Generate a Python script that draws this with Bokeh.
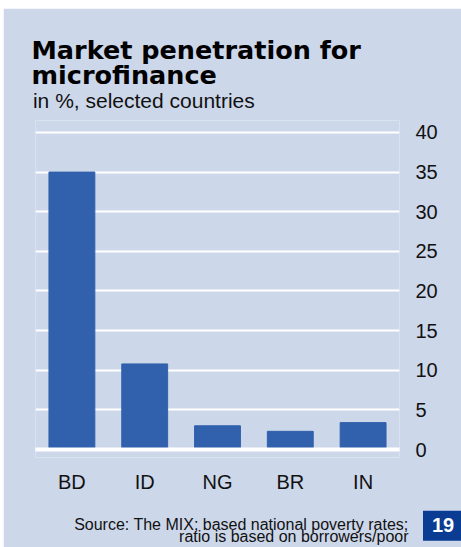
from bokeh.plotting import figure
from bokeh.models import Range1d, FactorRange, Span, Label, LinearAxis, FixedTicker, Spacer
from bokeh.layouts import column, row
from bokeh.embed import file_html
from bokeh.resources import INLINE

countries = ["BD", "ID", "NG", "BR", "IN"]
penetration = [35.0, 10.8, 3.0, 2.3, 3.4]
y_ticks = [0, 5, 10, 15, 20, 25, 30, 35, 40]

BG = "#CDD7EA"
BAR = "#3160AC"
BOX = "#0A3C93"
FONT = "Liberation Sans"
TXT = "#111111"

p = figure(width=458, height=539, x_range=FactorRange(*countries), y_range=Range1d(-1, 41.5),
           output_backend="svg", toolbar_location=None, y_axis_location=None,
           min_border_left=32, min_border_right=62, min_border_top=112, min_border_bottom=90)
p.background_fill_color = BG
p.border_fill_color = BG
p.outline_line_color = None

p.vbar(x=countries, top=penetration, bottom=0, width=0.63, color=BAR)

p.xgrid.grid_line_color = None
p.ygrid.grid_line_color = "white"
p.ygrid.grid_line_width = 2
p.ygrid.ticker = FixedTicker(ticks=y_ticks)

p.add_layout(Span(location=0, dimension="width", line_color="white", line_width=4, line_cap="round"))

yax = LinearAxis(ticker=FixedTicker(ticks=y_ticks))
yax.axis_line_color = None
yax.major_tick_line_color = None
yax.minor_tick_line_color = None
yax.major_tick_out = 0
yax.major_label_standoff = 16
yax.major_label_text_font = FONT
yax.major_label_text_font_size = "20px"
yax.major_label_text_color = TXT
p.add_layout(yax, "right")

xax = p.xaxis[0]
xax.axis_line_color = None
xax.major_tick_line_color = None
xax.major_tick_out = 0
xax.major_label_standoff = 13
xax.major_label_text_font = FONT
xax.major_label_text_font_size = "20px"
xax.major_label_text_color = TXT


def lab(place, text, x, y, size, style="normal", align="left", baseline="alphabetic",
        font=FONT, color=TXT, **kw):
    l = Label(x=x, y=y, text=text, text_font=font, text_font_size=size,
              text_font_style=style, text_align=align, text_baseline=baseline,
              text_color=color, **kw)
    p.add_layout(l, place)


# header texts (side-panel labels are not clipped to the frame)
lab("above", "Market penetration for", -0.055, 50.45, "25.5px", "bold", font="DejaVu Sans", color="#000000")
lab("above", "microfinance", -0.055, 47.30, "25.5px", "bold", font="DejaVu Sans", color="#000000")
lab("above", "in %, selected countries", -0.035, 44.08, "21px")
# footer texts, split between panels so that the borders keep their size
lab("above", "ratio is based on borrowers/poor", 5.124, -11.0, "16px", align="right")
lab("below", "Source: The MIX; based national poverty rates;", 5.124, -9.49, "16px", align="right")
lab("below", "19", 5.3228, -7.71, "20px", "bold", baseline="top", color="white",
    background_fill_color=BOX, padding=dict(left=9, right=8, top=7, bottom=9))

layout = column(Spacer(width=461, height=8),
                row(Spacer(width=3, height=539), p, spacing=0),
                spacing=0)

open("out.html", "w").write(file_html(layout, INLINE))
